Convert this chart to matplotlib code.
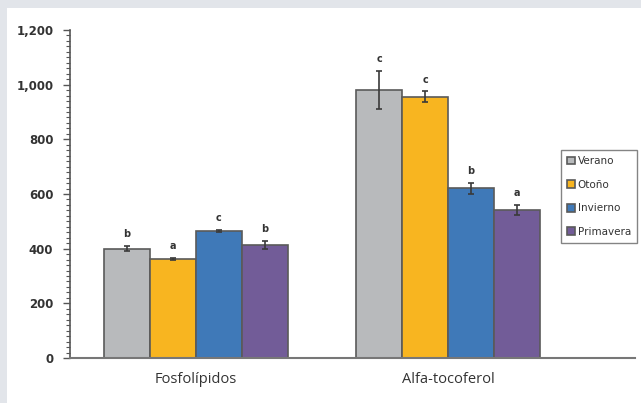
import matplotlib.pyplot as plt
import matplotlib.patches as mpatches
import numpy as np
from matplotlib.ticker import FuncFormatter, MultipleLocator

categorias = ["Fosfolípidos", "Alfa-tocoferol"]
estaciones = ["Verano", "Otoño", "Invierno", "Primavera"]
colores = ["#b8babc", "#f8b520", "#3f79b8", "#725c98"]

valores = {
    "Verano": [400, 980],
    "Otoño": [362, 955],
    "Invierno": [465, 621],
    "Primavera": [414, 541],
}
errores = {
    "Verano": [10, 70],
    "Otoño": [5, 20],
    "Invierno": [5, 20],
    "Primavera": [15, 18],
}
letras = {
    "Verano": ["b", "c"],
    "Otoño": ["a", "c"],
    "Invierno": ["c", "b"],
    "Primavera": ["b", "a"],
}

fig = plt.figure(figsize=(6.41, 4.03), dpi=100, facecolor="#e2e5ea")
fig.patches.append(mpatches.Rectangle((7 / 641, 0), 1, 1 - 8 / 403,
                                      transform=fig.transFigure,
                                      facecolor="white", edgecolor="none", zorder=-10))

ax = fig.add_axes([70 / 641, 1 - 358 / 403, 565 / 641, 328 / 403])
ax.set_facecolor("none")

x = np.arange(len(categorias))
ancho = 0.1825
for i, est in enumerate(estaciones):
    pos = x + (i - 1.5) * ancho
    ax.bar(pos, valores[est], width=ancho, color=colores[i],
           edgecolor="#5a5a5a", linewidth=1.2, label=est, zorder=2)
    ax.errorbar(pos, valores[est], yerr=errores[est], fmt="none",
                ecolor="#3a3a3a", elinewidth=1.2, capsize=2.5, capthick=1.2, zorder=3)
    for p, v, e, l in zip(pos, valores[est], errores[est], letras[est]):
        ax.text(p, v + e + 25, l, ha="center", va="bottom",
                fontsize=7, color="#333333", fontweight="bold")

ax.set_xlim(-0.5, 1.742)
ax.set_ylim(0, 1200)
ax.set_xticks(x)
ax.set_xticklabels(categorias, fontsize=10.5, color="#333333", family="Open Sans")
ax.tick_params(axis="x", length=0, pad=10)

ax.yaxis.set_major_locator(MultipleLocator(200))
ax.yaxis.set_minor_locator(MultipleLocator(20))
ax.yaxis.set_major_formatter(FuncFormatter(lambda v, p: f"{int(v):,}"))
ax.tick_params(axis="y", which="major", length=5, width=1, color="#555555",
               labelsize=8.5, labelcolor="#333333", pad=7)
ax.tick_params(axis="y", which="minor", length=3, width=0.8, color="#555555")
for lab in ax.get_yticklabels():
    lab.set_fontweight("bold")

for s in ["top", "right"]:
    ax.spines[s].set_visible(False)
ax.spines["left"].set_color("#555555")
ax.spines["bottom"].set_color("#777777")
ax.spines["left"].set_linewidth(1.2)
ax.spines["bottom"].set_linewidth(1.5)

leg = ax.legend(loc="upper left", bbox_to_anchor=((561 - 70) / 565, 1 - (150 - 30) / 328),
                fontsize=7.5, frameon=True, fancybox=False, handlelength=0.75,
                handleheight=0.75, handletextpad=0.25, labelspacing=1.3,
                borderpad=0.6, borderaxespad=0)
leg.get_frame().set_edgecolor("#666666")
leg.get_frame().set_linewidth(1.0)
for t in leg.get_texts():
    t.set_color("#333333")

fig.savefig("out.png", dpi=100, facecolor=fig.get_facecolor())
